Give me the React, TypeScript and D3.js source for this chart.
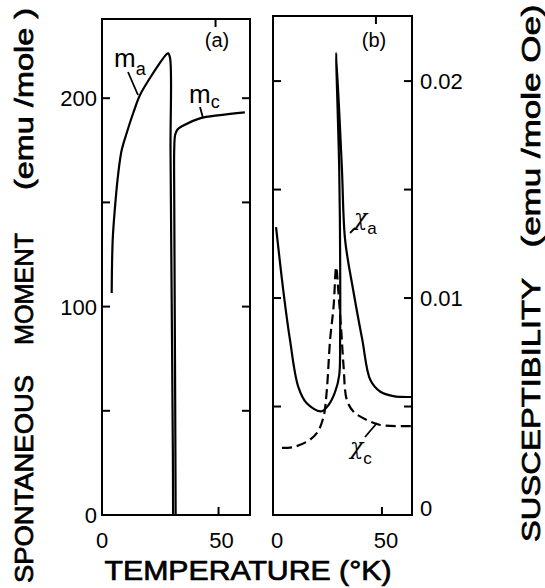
import React from "react";
import * as d3 from "d3";

// ---- data (temperature in K, values in data units) ----
const tempTicks = [50];
const tempLabels = [0, 50];
const momentTicks = [50, 100, 150, 200];
const momentLabels = [0, 100, 200];
const suscTicks = [0.005, 0.01, 0.015, 0.02];
const suscLabels = [0, 0.01, 0.02];

// spontaneous moment along a (emu/mole)
const mA: [number, number][] = [
  [4.16, 106.5], [4.59, 132.0], [5.58, 147.8], [6.99, 164.1], [8.45, 175.1], [10.6, 183.3],
  [13.4, 192.9], [16.3, 201.5], [20.6, 209.7], [24.2, 215.9], [27.8, 221.2], [28.4, 221.5],
  [29.2, 219.3], [29.4, 175.1], [29.9, 103.2], [30.4, 30], [30.5, 0],
];
// spontaneous moment along c (emu/mole)
const mC: [number, number][] = [
  [31.6, 0], [31.4, 55], [31.0, 151], [31.0, 176], [31.4, 182.5], [32.4, 185],
  [34.7, 186.8], [42.0, 190.3], [50.6, 191.9], [61.3, 193.2],
];
// susceptibility chi_a (emu/mole Oe)
const chiA: [number, number][] = [
  [1.4, 0.01327], [4.7, 0.01037], [7.8, 0.00807], [11.6, 0.00591], [15.5, 0.00515],
  [22.0, 0.00478], [25.5, 0.00507], [28.5, 0.00567], [30.4, 0.00645], [30.8, 0.00807],
  [30.8, 0.01221], [30.4, 0.0159], [29.0, 0.0213], [31.6, 0.01604], [33.1, 0.01268],
  [36.8, 0.01037], [41.0, 0.00807], [44.7, 0.00622], [49.3, 0.00568], [55.2, 0.00548],
  [63.8, 0.00544],
];
// susceptibility chi_c (emu/mole Oe)
const chiC: [number, number][] = [
  [4.1, 0.00309], [9.2, 0.00313], [15.5, 0.00338], [20.1, 0.00377], [23.2, 0.00453],
  [24.7, 0.00576], [26.2, 0.00807], [27.8, 0.0096], [29.0, 0.01143], [30.0, 0.0103],
  [31.3, 0.00853], [32.4, 0.00684], [33.9, 0.0053], [37.0, 0.00476], [43.1, 0.00438],
  [49.3, 0.00415], [63.8, 0.0041],
];

const FONT = "'Liberation Sans', Arial, sans-serif";

export default function App() {
  // panel a scales
  const xa = d3.scaleLinear().domain([0, 63.5]).range([102, 250]);
  const ya = d3.scaleLinear().domain([0, 238]).range([515, 19]);
  // panel b scales
  const xb = d3.scaleLinear().domain([0, 63.8]).range([273, 412]);
  const yb = d3.scaleLinear().domain([0, 0.023]).range([515, 16]);

  const lineA = d3.line<[number, number]>().x((d) => xa(d[0])).y((d) => ya(d[1])).curve(d3.curveCatmullRom.alpha(0.5));
  const lineB = d3.line<[number, number]>().x((d) => xb(d[0])).y((d) => yb(d[1])).curve(d3.curveCatmullRom.alpha(0.5));

  const TL = 8;
  const frame = (x: d3.ScaleLinear<number, number>, y: d3.ScaleLinear<number, number>) => {
    const [x0, x1] = x.range();
    const [y0, y1] = y.range();
    return <rect x={x0} y={y1} width={x1 - x0} height={y0 - y1} fill="none" stroke="#000" strokeWidth={2} />;
  };

  return (
    <svg width={545} height={588} style={{ position: "absolute", left: 0, top: 0, background: "#fff" }} fontFamily={FONT}>
      <rect width={545} height={588} fill="#fff" />
      {/* panel a */}
      {frame(xa, ya)}
      {momentTicks.map((v) => (
        <g key={"ma" + v}>
          <line x1={xa.range()[0]} x2={xa.range()[0] + TL} y1={ya(v)} y2={ya(v)} stroke="#000" strokeWidth={2} />
          <line x1={xa.range()[1]} x2={xa.range()[1] - TL} y1={ya(v)} y2={ya(v)} stroke="#000" strokeWidth={2} />
        </g>
      ))}
      {tempTicks.map((t) => (
        <g key={"ta" + t}>
          <line x1={xa(t)} x2={xa(t)} y1={ya.range()[0]} y2={ya.range()[0] - TL} stroke="#000" strokeWidth={2} />
          <line x1={xa(t) - 3} x2={xa(t) - 3} y1={ya.range()[1]} y2={ya.range()[1] + TL} stroke="#000" strokeWidth={2} />
        </g>
      ))}
      <g fontSize={22}>
        {momentLabels.map((v) => (
          <text key={"ml" + v} x={97} y={ya(v)} dy="0.36em" textAnchor="end">{v}</text>
        ))}
        {tempLabels.map((t) => (
          <text key={"tla" + t} x={xa(t) + (t === 0 ? 0 : 3)} y={548} textAnchor="middle">{t}</text>
        ))}
      </g>
      <path d={lineA(mA) || ""} fill="none" stroke="#000" strokeWidth={2.2} />
      <path d={lineA(mC) || ""} fill="none" stroke="#000" strokeWidth={2.2} />
      <text x={217} y={47} textAnchor="middle" fontSize={20}>(a)</text>
      <text x={114} y={67} fontSize={26}>m<tspan fontSize={18} dy={8}>a</tspan></text>
      <line x1={128} y1={72} x2={138} y2={95} stroke="#000" strokeWidth={1.8} />
      <text x={189} y={103} fontSize={26}>m<tspan fontSize={18} dy={5}>c</tspan></text>
      <line x1={200} y1={107} x2={203} y2={118} stroke="#000" strokeWidth={1.8} />

      {/* panel b */}
      {frame(xb, yb)}
      {suscTicks.map((v) => (
        <g key={"sb" + v}>
          <line x1={xb.range()[0]} x2={xb.range()[0] + TL} y1={yb(v)} y2={yb(v)} stroke="#000" strokeWidth={2} />
          <line x1={xb.range()[1]} x2={xb.range()[1] - TL} y1={yb(v)} y2={yb(v)} stroke="#000" strokeWidth={2} />
        </g>
      ))}
      {tempTicks.map((t) => (
        <g key={"tb" + t}>
          <line x1={xb(t)} x2={xb(t)} y1={yb.range()[0]} y2={yb.range()[0] - TL} stroke="#000" strokeWidth={2} />
          <line x1={xb(t) - 6} x2={xb(t) - 6} y1={yb.range()[1]} y2={yb.range()[1] + TL} stroke="#000" strokeWidth={2} />
        </g>
      ))}
      <g fontSize={22}>
        {suscLabels.map((v) => (
          <text key={"sl" + v} x={420} y={yb(v)} dy={v === 0 ? "0.05em" : "0.36em"} textAnchor="start">{v === 0 ? "0" : v.toFixed(2)}</text>
        ))}
        {tempLabels.map((t) => (
          <text key={"tlb" + t} x={xb(t) + 4} y={548} textAnchor="middle">{t}</text>
        ))}
      </g>
      <path d={lineB(chiA) || ""} fill="none" stroke="#000" strokeWidth={2.2} />
      <path d={lineB(chiC) || ""} fill="none" stroke="#000" strokeWidth={2.2} strokeDasharray="10 5" />
      <text x={374} y={47} textAnchor="middle" fontSize={20}>(b)</text>
      <text x={354} y={225} fontSize={22} fontFamily="'DejaVu Serif', serif" fontStyle="italic">χ<tspan fontSize={17} dy={9} fontStyle="normal" fontFamily={FONT}>a</tspan></text>
      <line x1={350} y1={233} x2={355} y2={228} stroke="#000" strokeWidth={1.8} />
      <text x={350} y={454} fontSize={22} fontFamily="'DejaVu Serif', serif" fontStyle="italic">χ<tspan fontSize={17} dy={10} fontStyle="normal" fontFamily={FONT}>c</tspan></text>
      <line x1={365} y1={437} x2={377} y2={423} stroke="#000" strokeWidth={1.8} />

      {/* axis titles */}
      <g fontSize={25} stroke="#000" strokeWidth={0.7}>
        <text transform="translate(24,479) rotate(-90)" dy="0.36em" textAnchor="middle" textLength={208} lengthAdjust="spacingAndGlyphs">SPONTANEOUS</text>
        <text transform="translate(24,289) rotate(-90)" dy="0.36em" textAnchor="middle" textLength={112} lengthAdjust="spacingAndGlyphs">MOMENT</text>
        <text transform="translate(24,99) rotate(-90)" dy="0.36em" textAnchor="middle" textLength={182} lengthAdjust="spacingAndGlyphs">(emu /mole )</text>
        <text transform="translate(531,410) rotate(-90)" dy="0.36em" textAnchor="middle" textLength={264} lengthAdjust="spacingAndGlyphs">SUSCEPTIBILITY</text>
        <text transform="translate(531,126) rotate(-90)" dy="0.36em" textAnchor="middle" textLength={243} lengthAdjust="spacingAndGlyphs">(emu /mole  Oe)</text>
        <text x={248} y={580} textAnchor="middle" fontSize={27} textLength={287} lengthAdjust="spacingAndGlyphs">TEMPERATURE (°K)</text>
      </g>
    </svg>
  );
}
